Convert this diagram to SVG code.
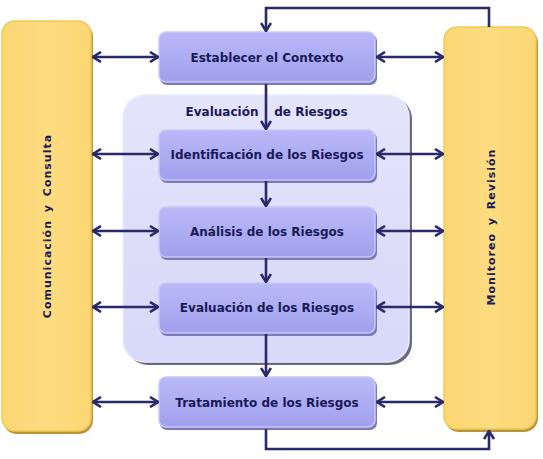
<svg xmlns="http://www.w3.org/2000/svg" width="543" height="459" viewBox="0 0 543 459">
<defs>
<linearGradient id="gP" x1="0" y1="0" x2="0" y2="1"><stop offset="0" stop-color="#b9b9f8"/><stop offset="1" stop-color="#a0a0ec"/></linearGradient>
<linearGradient id="gY" x1="0" y1="0" x2="1" y2="0"><stop offset="0" stop-color="#fcd673"/><stop offset="0.5" stop-color="#fddc80"/><stop offset="1" stop-color="#fcd673"/></linearGradient>
<linearGradient id="gB" x1="0" y1="0" x2="0" y2="1"><stop offset="0" stop-color="#e4e4fc"/><stop offset="1" stop-color="#d8d8f8"/></linearGradient>
<marker id="ah" viewBox="0 0 10 12" refX="9" refY="6" markerWidth="10" markerHeight="12" markerUnits="userSpaceOnUse" orient="auto-start-reverse">
<path d="M1,1 L9,6 L1,11" fill="none" stroke="#2a2a6a" stroke-width="2.6" stroke-linejoin="miter"/>
</marker>
<style>
.pb{fill:url(#gP);stroke:#c8c8fa;stroke-width:1.5}
.ps{fill:#7a7ab8}
.yb{fill:url(#gY);stroke:#f0c85a;stroke-width:1.5}
.ys{fill:#b8943a}
.t{font-family:"DejaVu Sans",Verdana,sans-serif;font-weight:bold;font-size:12px;fill:#1a1a58;text-anchor:middle}
.v{font-size:11px;letter-spacing:1px;word-spacing:3px}
.c{fill:none;stroke:#2a2a6a;stroke-width:2.6}
</style>
</defs>
<g id="evaluacion-riesgos">
<rect x="126" y="97" width="286" height="268" rx="22" fill="#6a6a84"/>
<rect x="123" y="95" width="286" height="267" rx="22" fill="url(#gB)" stroke="#ececfe" stroke-width="1.5"/>
<text class="t" x="222" y="116">Evaluación</text>
<text class="t" x="311" y="116">de Riesgos</text>
</g>
<g id="comunicacion">
<rect x="3" y="23" width="90" height="411" rx="14" class="ys"/>
<rect x="2" y="21" width="89" height="410" rx="13" class="yb"/>
<text class="t v" transform="translate(51,226) rotate(-90)">Comunicación y Consulta</text>
</g>
<g id="monitoreo">
<rect x="445" y="29" width="93" height="403" rx="14" class="ys"/>
<rect x="444" y="27" width="92" height="402" rx="13" class="yb"/>
<text class="t v" transform="translate(495,227) rotate(-90)">Monitoreo y Revisión</text>
</g>
<g id="establecer">
<rect x="160" y="34" width="217" height="51" rx="7" class="ps"/>
<rect x="159" y="32" width="216" height="50" rx="7" class="pb"/>
<text class="t" x="267" y="62">Establecer el Contexto</text>
</g>
<g id="identificacion">
<rect x="160" y="132" width="217" height="51" rx="7" class="ps"/>
<rect x="159" y="130" width="216" height="50" rx="7" class="pb"/>
<text class="t" x="267" y="159">Identificación de los Riesgos</text>
</g>
<g id="analisis">
<rect x="160" y="209" width="217" height="51" rx="7" class="ps"/>
<rect x="159" y="207" width="216" height="50" rx="7" class="pb"/>
<text class="t" x="267" y="236">Análisis de los Riesgos</text>
</g>
<g id="evaluacion">
<rect x="160" y="285" width="217" height="51" rx="7" class="ps"/>
<rect x="159" y="283" width="216" height="50" rx="7" class="pb"/>
<text class="t" x="267" y="312">Evaluación de los Riesgos</text>
</g>
<g id="tratamiento">
<rect x="160" y="379" width="217" height="51" rx="7" class="ps"/>
<rect x="159" y="377" width="216" height="50" rx="7" class="pb"/>
<text class="t" x="267" y="407">Tratamiento de los Riesgos</text>
</g>
<g id="connectors">
<path class="c" d="M489,27 V8 H266 V31" marker-end="url(#ah)"/>
<path class="c" d="M266,84 V129" marker-end="url(#ah)"/>
<path class="c" d="M266,181 V206" marker-end="url(#ah)"/>
<path class="c" d="M266,258 V282" marker-end="url(#ah)"/>
<path class="c" d="M266,334 V376" marker-end="url(#ah)"/>
<path class="c" d="M266,429 V449 H489 V431" marker-end="url(#ah)"/>
<path class="c" d="M93,57 H158" marker-start="url(#ah)" marker-end="url(#ah)"/>
<path class="c" d="M93,154 H158" marker-start="url(#ah)" marker-end="url(#ah)"/>
<path class="c" d="M93,231 H158" marker-start="url(#ah)" marker-end="url(#ah)"/>
<path class="c" d="M93,307 H158" marker-start="url(#ah)" marker-end="url(#ah)"/>
<path class="c" d="M93,402 H158" marker-start="url(#ah)" marker-end="url(#ah)"/>
<path class="c" d="M377,57 H443" marker-start="url(#ah)" marker-end="url(#ah)"/>
<path class="c" d="M377,154 H443" marker-start="url(#ah)" marker-end="url(#ah)"/>
<path class="c" d="M377,231 H443" marker-start="url(#ah)" marker-end="url(#ah)"/>
<path class="c" d="M377,307 H443" marker-start="url(#ah)" marker-end="url(#ah)"/>
<path class="c" d="M377,402 H443" marker-start="url(#ah)" marker-end="url(#ah)"/>
</g>
</svg>
